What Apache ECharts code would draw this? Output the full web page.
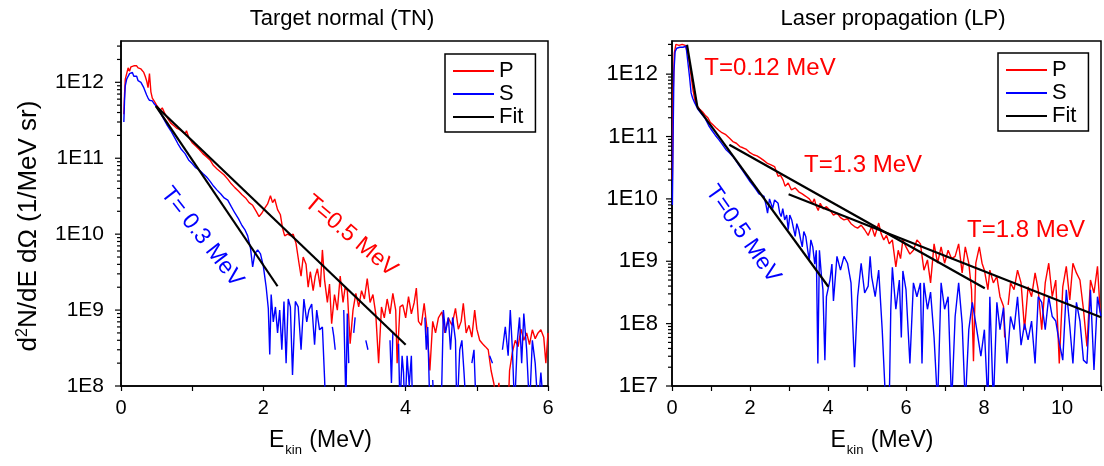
<!DOCTYPE html>
<html>
<head>
<meta charset="utf-8">
<script src="https://cdn.jsdelivr.net/npm/echarts@6/dist/echarts.min.js"></script>
<style>html,body{margin:0;padding:0;background:#fff;}#c{width:1104px;height:466px;}</style>
</head>
<body>
<div id="c"></div>
<script>
// ---------- data: Target normal (TN) ----------
const tnP = [[0.04,3.8e11],[0.05,7e11],[0.06,1.1e12],[0.08,1.3e12],[0.10,1.55e12],[0.12,1.4e12],[0.14,1.6e12],[0.16,1.55e12],[0.18,1.65e12],[0.20,1.6e12],[0.22,1.65e12],[0.24,1.55e12],[0.26,1.6e12],[0.28,1.5e12],[0.30,1.45e12],[0.32,1.35e12],[0.34,1.2e12],[0.36,1.05e12],[0.38,8.5e11],[0.40,1.3e12],[0.42,7.5e11],[0.44,6.2e11],[0.46,5.8e11],[0.48,5.6e11],[0.50,5e11],[0.52,5.3e11],[0.55,4.3e11],[0.58,4.6e11],[0.62,3.8e11],[0.66,3.3e11],[0.70,2.9e11],[0.74,2.7e11],[0.78,2.5e11],[0.82,2.4e11],[0.86,2.25e11],[0.90,2.1e11],[0.92,2.3e11],[0.95,1.9e11],[1.00,1.6e11],[1.05,1.45e11],[1.10,1.3e11],[1.15,1.15e11],[1.20,1.05e11],[1.25,9.5e10],[1.30,8e10],[1.35,7.2e10],[1.40,6.6e10],[1.45,6e10],[1.50,5.3e10],[1.55,4.6e10],[1.60,4.1e10],[1.65,3.7e10],[1.70,3.3e10],[1.75,3e10],[1.80,2.6e10],[1.85,2.4e10],[1.90,2e10],[1.94,1.7e10],[1.98,1.9e10],[2.02,2.2e10],[2.06,2.5e10],[2.10,3.2e10],[2.13,2.6e10],[2.16,2.9e10],[2.20,2.1e10],[2.24,1.8e10],[2.27,1.2e10],[2.30,9.5e9],[2.34,1.0e10],[2.38,9.6e9],[2.42,1.0e10],[2.46,7.5e9],[2.50,4.2e9],[2.53,2.8e9],[2.56,5e9],[2.60,4e9],[2.63,2e9],[2.66,3.2e9],[2.70,1.8e9],[2.73,2.8e9],[2.76,3.5e9],[2.80,2e9],[2.83,6.2e9],[2.86,2.5e9],[2.90,1.26e9],[2.93,2.2e9],[2.96,6.6e8],[3.00,1.6e9],[3.04,1e9],[3.08,2.8e9],[3.12,1.26e9],[3.15,2e9],[3.18,1.8e9],[3.22,3.6e8],[3.26,1e9],[3.30,1.66e9],[3.34,1.1e9],[3.38,1.8e9],[3.42,1.4e9],[3.46,2.6e9],[3.50,1.26e9],[3.54,1.6e9],[3.58,8.9e8],[3.62,2e8],[3.66,1.1e9],[3.70,7.9e8],[3.74,1.4e9],[3.78,8.9e8],[3.82,1.66e9],[3.86,1e9],[3.88,2e8],[3.92,1.1e9],[3.96,1.17e9],[4.00,7.9e8],[4.04,1.5e9],[4.08,8.9e8],[4.12,1.26e9],[4.15,1.95e9],[4.18,7.1e8],[4.22,6.3e8],[4.26,1.23e9],[4.30,5.6e8],[4.34,1.6e8],[4.38,7.1e8],[4.42,5e8],[4.46,7.9e8],[4.51,9.5e8],[4.55,5e8],[4.60,7.9e8],[4.65,6.3e8],[4.70,1.05e9],[4.74,5.6e8],[4.78,7.1e8],[4.81,1.23e9],[4.85,5e8],[4.89,6.3e8],[4.93,4.4e8],[4.97,1e9],[5.00,5.6e8],[5.04,4e8],[5.08,3.6e8],[5.12,3.3e8],[5.16,3e8],[5.20,1.6e8],[5.24,1.07e8],[5.28,6e7],[5.31,1.1e8],[5.33,5e7],[5.36,null],[5.44,5e7],[5.46,1.6e8],[5.50,2.8e8],[5.54,4e8],[5.58,3.3e8],[5.62,5.6e8],[5.66,4e8],[5.70,5e8],[5.74,3.5e8],[5.78,5.5e8],[5.82,4.2e8],[5.86,5e8],[5.90,5.5e8],[5.94,4.4e8],[5.97,2e8],[6.00,5e8]];
const tnS = [[0.04,3e11],[0.05,6e11],[0.06,9e11],[0.08,1.1e12],[0.10,1.2e12],[0.12,1.3e12],[0.14,1.25e12],[0.16,1.35e12],[0.18,1.2e12],[0.20,1.15e12],[0.22,1.2e12],[0.24,1.05e12],[0.26,1.1e12],[0.28,1.0e12],[0.30,9.8e11],[0.32,8.5e11],[0.34,8e11],[0.36,6.8e11],[0.38,6.2e11],[0.40,5.8e11],[0.42,5.5e11],[0.44,5.7e11],[0.46,5.3e11],[0.48,5.0e11],[0.50,4.8e11],[0.55,4.0e11],[0.60,3.3e11],[0.65,2.7e11],[0.70,2.3e11],[0.75,1.9e11],[0.80,1.55e11],[0.85,1.3e11],[0.90,1.15e11],[0.95,9.5e10],[1.00,8.5e10],[1.05,7.5e10],[1.10,7e10],[1.15,6.3e10],[1.20,5.7e10],[1.25,5e10],[1.30,4.3e10],[1.35,3.8e10],[1.40,3.4e10],[1.45,3.0e10],[1.50,2.8e10],[1.55,2.3e10],[1.60,1.9e10],[1.65,1.6e10],[1.70,1.3e10],[1.74,1.15e10],[1.78,9.5e9],[1.82,6.5e9],[1.85,3.7e9],[1.88,5.5e9],[1.92,6.2e9],[1.96,5.5e9],[2.00,3.8e9],[2.04,2.0e9],[2.07,1.05e9],[2.09,2.6e8],[2.11,1.6e9],[2.14,7e8],[2.17,1.1e9],[2.20,5e8],[2.23,1.0e9],[2.26,3e8],[2.29,1.3e9],[2.32,2e8],[2.35,1.4e9],[2.38,1.1e9],[2.41,1.4e8],[2.45,1.3e9],[2.49,1.1e9],[2.53,3e8],[2.57,1.4e9],[2.61,7e8],[2.64,1.0e9],[2.68,1.2e9],[2.72,3.5e8],[2.75,1.0e9],[2.79,5.5e8],[2.83,6e8],[2.86,1.3e8],[2.88,4e7],[2.90,null],[2.97,6e8],[2.99,4.5e8],[3.01,3e8],[3.03,null],[3.13,1e9],[3.16,6e7],[3.18,9e8],[3.20,2e8],[3.22,null],[3.27,5e8],[3.29,8e8],[3.31,null],[3.44,4e8],[3.47,3e8],[3.49,null],[3.78,4e8],[3.80,1.1e8],[3.82,5e8],[3.84,null],[3.90,3.6e8],[3.92,5e7],[3.95,2.5e8],[3.97,1.5e8],[3.99,4e7],[4.02,2.5e8],[4.05,1e8],[4.08,2.5e8],[4.10,4e7],[4.12,null],[4.27,8e8],[4.29,3e8],[4.31,6e8],[4.34,5e7],[4.36,null],[4.38,1.2e8],[4.40,5e7],[4.42,null],[4.50,5e7],[4.53,1e9],[4.56,5e8],[4.60,8e8],[4.63,3e8],[4.66,8e8],[4.70,4e8],[4.72,4e7],[4.76,3e8],[4.79,4e8],[4.82,1.5e8],[4.85,5e7],[4.87,null],[4.93,2e8],[4.96,3e8],[4.99,5e7],[5.01,null],[5.18,2.5e8],[5.22,2e8],[5.24,null],[5.36,3e8],[5.40,6e8],[5.44,2.5e8],[5.47,1e9],[5.50,3e8],[5.53,5e7],[5.57,4e8],[5.60,8e8],[5.63,2e8],[5.66,9e8],[5.70,3e8],[5.74,5e7],[5.78,4e8],[5.82,2e8],[5.86,5e7],[5.90,1.5e8],[5.94,5e7],[5.96,null]];
const tnFitHot = [[0.49,4.87e11],[4.0,3.5e8]];   // T = 0.5 MeV
const tnFitCold = [[0.49,4.87e11],[2.2,2.06e9]]; // T = 0.3 MeV

// ---------- data: Laser propagation (LP) ----------
const lpP = [[0.01,2e10],[0.03,5e11],[0.06,2.2e12],[0.10,3.0e12],[0.14,3.2e12],[0.18,2.9e12],[0.22,3.1e12],[0.26,3.0e12],[0.30,3.1e12],[0.34,2.9e12],[0.38,3.1e12],[0.42,2.0e12],[0.46,1.3e12],[0.50,8.5e11],[0.54,5.5e11],[0.58,4.0e11],[0.62,3.3e11],[0.66,3.0e11],[0.72,2.7e11],[0.78,2.5e11],[0.85,2.2e11],[0.92,2.0e11],[0.98,1.7e11],[1.05,1.55e11],[1.12,1.4e11],[1.20,1.26e11],[1.28,1.15e11],[1.38,1.07e11],[1.47,9.5e10],[1.56,8.3e10],[1.65,7.8e10],[1.74,6.9e10],[1.82,6.6e10],[1.91,6.2e10],[2.00,5.5e10],[2.09,5.1e10],[2.18,4.9e10],[2.27,4.5e10],[2.36,4.1e10],[2.45,3.7e10],[2.54,3.5e10],[2.63,3.3e10],[2.68,2.7e10],[2.72,2.3e10],[2.78,2.4e10],[2.85,2e10],[2.90,1.6e10],[2.98,1.8e10],[3.06,1.4e10],[3.16,1.5e10],[3.25,1.3e10],[3.34,1.2e10],[3.43,1.1e10],[3.52,1.0e10],[3.60,8.5e9],[3.65,1.0e10],[3.70,7.6e9],[3.75,6.5e9],[3.80,8.5e9],[3.88,6.9e9],[3.96,7.5e9],[4.05,6.6e9],[4.14,5.5e9],[4.23,5.9e9],[4.32,5e9],[4.41,4.6e9],[4.50,4.8e9],[4.59,4e9],[4.68,3.6e9],[4.76,3.4e9],[4.85,3.8e9],[4.94,3.2e9],[5.03,2.6e9],[5.12,3.6e9],[5.20,2.5e9],[5.30,4.1e9],[5.36,2.8e9],[5.43,2.2e9],[5.50,2.6e9],[5.57,1.9e9],[5.65,2.2e9],[5.74,8.1e8],[5.80,1.5e9],[5.86,1.1e9],[5.92,2.2e9],[6.00,1.7e9],[6.10,1.3e9],[6.19,1.5e9],[6.28,2.2e9],[6.37,1.9e9],[6.46,7.2e8],[6.55,1.05e9],[6.63,4.5e8],[6.72,1.9e9],[6.81,9.3e8],[6.90,1.7e9],[6.99,9.3e8],[7.08,1.5e9],[7.17,1.1e9],[7.26,1.2e9],[7.35,1.9e9],[7.44,6.5e8],[7.52,1.7e9],[7.61,9.3e8],[7.68,3.5e8],[7.73,2.5e7],[7.79,9.3e8],[7.88,1.7e9],[7.95,9.3e8],[8.01,7.2e8],[8.10,3.5e8],[8.15,7.2e8],[8.24,4.5e8],[8.33,5.7e8],[8.41,2.7e8],[8.50,1.9e8],[8.53,6e7],[8.56,null],[8.62,2e8],[8.68,4.5e8],[8.77,3.5e8],[8.86,7.2e8],[8.95,4.5e8],[9.04,8e7],[9.13,3.9e8],[9.22,2.7e8],[9.31,6.5e8],[9.39,3.5e8],[9.48,8e7],[9.57,4.5e8],[9.66,9.3e8],[9.75,2.7e8],[9.84,5e8],[9.93,2.3e7],[10.02,3.9e8],[10.11,8.3e8],[10.20,2.4e8],[10.28,9.3e8],[10.37,6.5e8],[10.46,5e8],[10.55,1.7e8],[10.64,4.3e7],[10.73,5e8],[10.82,3.1e8],[10.91,8.3e8],[10.98,1.5e8]];
const lpS = [[0.01,8e9],[0.03,1.2e11],[0.05,1.1e12],[0.08,2.3e12],[0.12,2.6e12],[0.16,2.5e12],[0.20,2.7e12],[0.24,2.6e12],[0.28,2.7e12],[0.32,2.6e12],[0.36,2.8e12],[0.40,1.7e12],[0.45,9e11],[0.49,5e11],[0.53,4.1e11],[0.58,3.5e11],[0.67,2.7e11],[0.76,2.3e11],[0.85,1.95e11],[0.94,1.5e11],[1.02,1.26e11],[1.11,1.05e11],[1.20,8.9e10],[1.29,7.5e10],[1.38,6.2e10],[1.47,5.5e10],[1.56,4.8e10],[1.65,4.0e10],[1.74,3.3e10],[1.82,2.8e10],[1.91,2.3e10],[2.00,1.9e10],[2.09,1.6e10],[2.16,1.4e10],[2.23,1.2e10],[2.30,1.15e10],[2.36,1.1e10],[2.41,8e9],[2.45,5.9e9],[2.50,1.0e10],[2.54,9.6e9],[2.58,7e9],[2.63,9.6e9],[2.68,1.0e10],[2.72,8.5e9],[2.76,6e9],[2.80,5.2e9],[2.84,7e9],[2.89,4.6e9],[2.94,5.5e9],[2.98,3.2e9],[3.02,5.5e9],[3.07,4.6e9],[3.11,3.5e9],[3.16,2.5e9],[3.20,4e9],[3.25,3.2e9],[3.30,2.2e9],[3.34,1.7e9],[3.38,3e9],[3.43,2.5e9],[3.48,1.5e9],[3.52,1.05e9],[3.56,2.2e9],[3.61,1.7e9],[3.66,9e8],[3.70,1.5e9],[3.74,2.3e7],[3.78,1.5e9],[3.83,6e8],[3.87,3.5e8],[3.92,2.6e7],[3.96,2.7e8],[4.05,5e8],[4.10,9e8],[4.14,2.3e8],[4.23,1.2e9],[4.32,7.2e8],[4.41,1.2e9],[4.50,9.3e8],[4.59,4.5e8],[4.68,2e7],[4.76,2.7e8],[4.85,9.3e8],[4.94,3.1e8],[5.03,4e8],[5.08,1.2e9],[5.12,5.6e8],[5.21,2.7e8],[5.30,7.2e8],[5.39,8e7],[5.48,5e6],[5.57,5e6],[5.61,1.7e8],[5.65,8e8],[5.74,1.7e8],[5.83,5e8],[5.88,6e7],[5.92,7e8],[6.00,3.5e8],[6.10,2.3e7],[6.19,4.5e8],[6.28,2.7e8],[6.37,4.5e8],[6.41,2.3e7],[6.46,4.5e8],[6.55,1.7e8],[6.63,3.2e8],[6.72,6e7],[6.81,5e6],[6.90,4.5e8],[6.99,1.7e8],[7.08,2.7e8],[7.17,5e6],[7.26,1.3e8],[7.35,4.5e8],[7.44,1e8],[7.52,5e6],[7.61,8e7],[7.70,2.2e8],[7.79,1e8],[7.92,3e7],[8.01,8e7],[8.10,5e6],[8.15,2.7e8],[8.24,5e6],[8.33,2.2e8],[8.41,8e7],[8.50,1.8e8],[8.59,2.3e7],[8.68,1.3e8],[8.77,8e7],[8.86,2.7e8],[8.95,4.5e7],[9.04,1e8],[9.13,5.5e7],[9.22,1.1e8],[9.31,2.3e7],[9.39,2.7e8],[9.48,2.2e8],[9.57,8e7],[9.66,2.7e8],[9.75,1.3e8],[9.84,1.1e8],[9.93,5e7],[10.02,2.6e7],[10.11,3.5e8],[10.20,9e7],[10.28,2.3e7],[10.37,2.2e8],[10.46,1.1e8],[10.55,2.6e7],[10.64,2.3e7],[10.73,3.5e8],[10.82,1.8e7],[10.91,2.7e8],[11.00,1.3e8]];
const lpFit012 = [[0.385,2.96e12],[0.65,2.97e11]];  // T = 0.12 MeV
const lpFitS = [[0.65,2.97e11],[4.01,3.9e8]];       // T = 0.5 MeV
const lpFit13 = [[1.47,7.4e10],[8.02,3.7e8]];       // T = 1.3 MeV
const lpFit18 = [[2.99,1.19e10],[11.0,1.27e8]];     // T = 1.8 MeV

// ---------- axes / text ----------
const titles = ['Target normal (TN)', 'Laser propagation (LP)'];
const legendNames = ['P', 'S', 'Fit'];
const tnDecades = [1e8, 1e9, 1e10, 1e11, 1e12];
const lpDecades = [1e7, 1e8, 1e9, 1e10, 1e11, 1e12];
const minorSteps = [2, 3, 4, 5, 6, 7, 8, 9];
const tnYRange = [1e8, 3.5e12];
const lpYRange = [1e7, 3.4e12];
const tnXRange = [0, 6];
const lpXRange = [0, 11];

const FONT = "'Liberation Sans', Arial, Helvetica, sans-serif";
const RED = '#ff0000', BLUE = '#0000ff', BLACK = '#000000';

function tickData(decades, max) {
  const out = [];
  decades.forEach(d => {
    out.push([0, d, 1]);
    minorSteps.forEach(m => { if (d * m <= max) out.push([0, d * m, 0]); });
  });
  return out;
}

function yLabel(v) {
  const e = Math.round(Math.log10(v));
  return Math.abs(v - Math.pow(10, e)) < 1e-6 * v ? '1E' + e : '';
}
function xLabel(v) { return (Math.round(v) % 2 === 0) ? String(Math.round(v)) : ''; }

function xAxis(idx, range, shiftPad) {
  return {
    type: 'value', gridIndex: idx, min: range[0], max: range[1], interval: 1,
    axisLine: { show: true, lineStyle: { color: BLACK, width: 1.5 } },
    axisTick: { show: true, inside: false, length: 5, lineStyle: { color: BLACK, width: 1.2 } },
    axisLabel: { formatter: xLabel, fontSize: 20, color: BLACK, fontFamily: FONT, margin: 12 },
    splitLine: { show: false },
    name: '{t|E}{b|kin}{t| (MeV)}',
    nameLocation: 'middle', nameGap: 42,
    nameTextStyle: {
      color: BLACK, fontFamily: FONT, fontSize: 23, padding: [0, shiftPad, 0, 0],
      rich: {
        t: { fontSize: 23, fontFamily: FONT, color: BLACK, lineHeight: 26 },
        b: { fontSize: 13, fontFamily: FONT, color: BLACK, verticalAlign: 'bottom', lineHeight: 26, padding: [0, 1, -3, 1] }
      }
    }
  };
}

function yAxis(idx, range, fs, margin, withName) {
  const a = {
    type: 'log', logBase: 10, gridIndex: idx, min: range[0], max: range[1],
    axisLine: { show: true, lineStyle: { color: BLACK, width: 1.5 } },
    axisTick: { show: false },
    axisLabel: { formatter: yLabel, fontSize: fs, color: BLACK, fontFamily: FONT, margin: margin, showMaxLabel: false },
    splitLine: { show: false }
  };
  if (withName) {
    a.name = '{t|d}{s|2}{t|N/dE dΩ (1/MeV sr)}';
    a.nameLocation = 'middle';
    a.nameGap = 78;
    a.nameTextStyle = {
      color: BLACK, fontFamily: FONT, fontSize: 26, padding: [0, 25, 0, 0],
      rich: {
        t: { fontSize: 26, fontFamily: FONT, color: BLACK, lineHeight: 28 },
        s: { fontSize: 16, fontFamily: FONT, color: BLACK, verticalAlign: 'top', lineHeight: 28 }
      }
    };
  }
  return a;
}

function tickSeries(idx, data) {
  return {
    type: 'custom', xAxisIndex: idx, yAxisIndex: idx, silent: true, clip: false, z: 10,
    data: data,
    renderItem: function (params, api) {
      const p = api.coord([api.value(0), api.value(1)]);
      const len = api.value(2) ? 6 : 4;
      return { type: 'line', shape: { x1: p[0] - len, y1: p[1], x2: p[0], y2: p[1] },
               style: { stroke: BLACK, lineWidth: 1.2 } };
    }
  };
}

function lineSeries(name, idx, data, color, width, z) {
  return {
    name: name, type: 'line', xAxisIndex: idx, yAxisIndex: idx, data: data,
    symbol: 'none', showSymbol: false, connectNulls: false, clip: true, z: z,
    lineStyle: { color: color, width: width }, itemStyle: { color: color },
    emphasis: { disabled: true }, animation: false
  };
}

function legend(left, top) {
  return {
    data: legendNames, orient: 'vertical', left: left, top: top,
    borderColor: BLACK, borderWidth: 1.5, padding: [6, 12, 4, 8],
    icon: 'rect', itemWidth: 41, itemHeight: 2, itemGap: 1, selectedMode: false,
    textStyle: { fontSize: 22, fontFamily: FONT, color: BLACK, lineHeight: 22 }
  };
}

function annot(text, x, y, deg, color, fs) {
  return {
    type: 'text', x: x, y: y, rotation: deg * Math.PI / 180, z: 100,
    style: { text: text, fill: color, fontSize: fs, fontFamily: FONT,
             textAlign: 'center', textVerticalAlign: 'middle' }
  };
}

const chart = echarts.init(document.getElementById('c'), null, { renderer: 'canvas' });
chart.setOption({
  animation: false,
  backgroundColor: '#ffffff',
  title: [
    { text: titles[0], left: 337, top: 3, textAlign: 'center',
      textStyle: { fontSize: 22, fontWeight: 'normal', color: BLACK, fontFamily: FONT } },
    { text: titles[1], left: 888, top: 3, textAlign: 'center',
      textStyle: { fontSize: 22, fontWeight: 'normal', color: BLACK, fontFamily: FONT } }
  ],
  grid: [
    { left: 121, top: 41, width: 427, height: 345, show: true, borderColor: BLACK, borderWidth: 1.5, backgroundColor: 'transparent' },
    { left: 672, top: 41, width: 429, height: 345, show: true, borderColor: BLACK, borderWidth: 1.5, backgroundColor: 'transparent' }
  ],
  xAxis: [xAxis(0, tnXRange, 28), xAxis(1, lpXRange, 9)],
  yAxis: [yAxis(0, tnYRange, 21, 17, true), yAxis(1, lpYRange, 22, 14, false)],
  legend: [legend(445, 54), legend(998, 53)],
  series: [
    lineSeries('P', 0, tnP, RED, 1.4, 2),
    lineSeries('S', 0, tnS, BLUE, 1.4, 3),
    lineSeries('Fit', 0, tnFitHot, BLACK, 2.2, 4),
    lineSeries('Fit', 0, tnFitCold, BLACK, 2.2, 4),
    lineSeries('P', 1, lpP, RED, 1.4, 2),
    lineSeries('S', 1, lpS, BLUE, 1.4, 3),
    lineSeries('Fit', 1, lpFit012, BLACK, 2.2, 4),
    lineSeries('Fit', 1, lpFitS, BLACK, 2.2, 4),
    lineSeries('Fit', 1, lpFit13, BLACK, 2.2, 4),
    lineSeries('Fit', 1, lpFit18, BLACK, 2.2, 4),
    tickSeries(0, tickData(tnDecades, tnYRange[1])),
    tickSeries(1, tickData(lpDecades, lpYRange[1]))
  ],
  graphic: [
    annot('T= 0.3 MeV', 202, 237, -52, BLUE, 23),
    annot('T=0.5 MeV', 351, 236, -40, RED, 23),
    annot('T=0.12 MeV', 770, 68, 0, RED, 24),
    annot('T=1.3 MeV', 863, 165, 0, RED, 24),
    annot('T=1.8 MeV', 1026, 230, 0, RED, 24),
    annot('T=0.5 MeV', 743, 234, -55, BLUE, 23)
  ]
});
</script>
</body>
</html>
